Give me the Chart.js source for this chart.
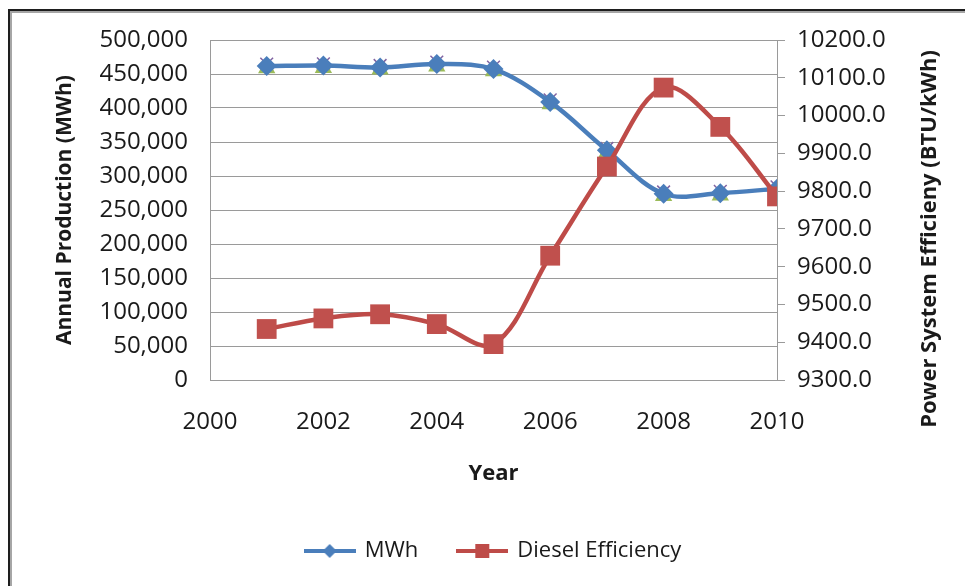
<!DOCTYPE html>
<html>
<head>
<meta charset="utf-8">
<title>Annual Production vs Diesel Efficiency</title>
<script src="https://cdn.jsdelivr.net/npm/chart.js@4.4.1/dist/chart.umd.min.js"></script>
<style>
    html, body { margin: 0; padding: 0; background: #fff; }
    #wrap { position: relative; width: 965px; height: 586px; overflow: hidden; }
    #frame {
        position: absolute; left: 8px; top: 9px; width: 1200px; height: 900px;
        border-top: 2px solid #1e1e1e; border-left: 2px solid #1e1e1e;
        box-shadow: inset 2px 2px 0 #a6a6a6;
    }
    #myChart { position: absolute; left: 0; top: 0; }
</style>
</head>
<body>
<div id="wrap">
    <div id="frame"></div>
    <canvas id="myChart" width="965" height="586"></canvas>
</div>
<script>
    // data
    var years = [2001, 2002, 2003, 2004, 2005, 2006, 2007, 2008, 2009, 2010];
    var mwh = [461700, 462500, 459700, 464600, 457200, 409000, 337800, 273900, 274800, 281300];
    // two extra series hidden under the MWh line (no legend entry)
    var mwhTriangle = [458500, 459000, 456500, 461000, 454000, 405500, 334500, 270500, 271500, 278000];
    var mwhCross = [464500, 465000, 462500, 467500, 460000, 412000, 340500, 276500, 277500, 284000];
    var dieselEfficiency = [9435, 9463, 9474, 9448, 9395, 9629, 9865, 10074, 9970, 9786];

    var blue = '#4a7ebb', red = '#be4b48', green = '#9bbb59', purple = '#8064a2';
    var textColor = '#1a1a1a', gridColor = '#9a9a9a';
    var fontFamily = '"Open Sans", "Liberation Sans", sans-serif';

    Chart.defaults.font.family = fontFamily;
    Chart.defaults.color = textColor;

    var toPoints = function (values) {
        return values.map(function (v, i) { return { x: years[i], y: v }; });
    };

    // little line + marker picture for the legend
    var legendIcon = function (color, shape) {
        var c = document.createElement('canvas');
        c.width = 52; c.height = 18;
        var g = c.getContext('2d');
        g.strokeStyle = color;
        g.fillStyle = color;
        g.lineWidth = 4;
        g.beginPath(); g.moveTo(0, 9); g.lineTo(52, 9); g.stroke();
        g.beginPath();
        if (shape === 'diamond') {
            g.moveTo(26, 2); g.lineTo(33, 9); g.lineTo(26, 16); g.lineTo(19, 9);
        } else {
            g.rect(19, 2, 14, 14);
        }
        g.closePath(); g.fill();
        return c;
    };

    // Excel puts the legend a bit right of the canvas centre
    var legendShift = {
        id: 'legendShift',
        afterLayout: function (chart) {
            chart.legend.left += 11;
            chart.legend.right += 11;
        }
    };

    var rightTitle = {
        id: 'rightTitle',
        afterDraw: function (chart) {
            var ctx = chart.ctx;
            ctx.save();
            ctx.translate(930, 239);
            ctx.rotate(-Math.PI / 2);
            ctx.font = 'bold 22px ' + fontFamily;
            ctx.fillStyle = textColor;
            ctx.textAlign = 'center';
            ctx.textBaseline = 'middle';
            ctx.fillText('Power System Efficieny (BTU/kWh)', 0, 0);
            ctx.restore();
        }
    };

    var chartData = {
        datasets: [
            {
                label: 'MWh',
                data: toPoints(mwh),
                yAxisID: 'y',
                borderColor: blue,
                backgroundColor: blue,
                borderWidth: 4.5,
                pointStyle: 'rectRot',
                pointRadius: 10,
                pointBorderWidth: 0,
                tension: 0.35,
                order: 1
            },
            {
                label: 'Diesel Efficiency',
                data: toPoints(dieselEfficiency),
                yAxisID: 'y2',
                borderColor: red,
                backgroundColor: '#c0504d',
                borderWidth: 4.5,
                pointStyle: 'rect',
                pointRadius: 14,
                pointBorderWidth: 0,
                tension: 0.35,
                order: 0
            },
            {
                label: 'series3',
                data: toPoints(mwhTriangle),
                yAxisID: 'y',
                showLine: false,
                backgroundColor: green,
                borderColor: green,
                pointStyle: 'triangle',
                pointRadius: 10,
                pointBorderWidth: 0,
                order: 2
            },
            {
                label: 'series4',
                data: toPoints(mwhCross),
                yAxisID: 'y',
                showLine: false,
                borderColor: purple,
                backgroundColor: purple,
                pointStyle: 'crossRot',
                pointRadius: 9,
                pointBorderWidth: 1.5,
                order: 3
            }
        ]
    };

    var chartOptions = {
        responsive: false,
        animation: false,
        layout: { padding: { top: 40, left: 0, right: 0, bottom: 14 } },
        plugins: {
            tooltip: { enabled: false },
            legend: {
                position: 'bottom',
                labels: {
                    usePointStyle: true,
                    pointStyleWidth: 48,
                    padding: 40,
                    font: { size: 22 },
                    color: textColor,
                    generateLabels: function (chart) {
                        return [
                            { text: 'MWh', pointStyle: legendIcon(blue, 'diamond'), datasetIndex: 0, hidden: false, lineWidth: 0, fontColor: textColor },
                            { text: 'Diesel Efficiency', pointStyle: legendIcon(red, 'square'), datasetIndex: 1, hidden: false, lineWidth: 0, fontColor: textColor }
                        ];
                    }
                }
            }
        },
        scales: {
            x: {
                type: 'linear',
                min: 2000,
                max: 2010,
                ticks: {
                    stepSize: 2,
                    padding: 28,
                    font: { size: 24 },
                    callback: function (v) { return String(v); }
                },
                grid: { display: false, drawTicks: false },
                border: { color: gridColor, width: 1 },
                title: { display: true, text: 'Year', font: { size: 22, weight: 'bold' }, padding: { top: 0, bottom: 13 } },
                afterFit: function (scale) { scale.height = 120; }
            },
            y: {
                position: 'left',
                min: 0,
                max: 500000,
                ticks: {
                    stepSize: 50000,
                    padding: 22,
                    font: { size: 24 },
                    callback: function (v) { return v.toLocaleString('en-US'); }
                },
                grid: { color: gridColor, lineWidth: 1, drawTicks: false },
                border: { color: gridColor, width: 1 },
                title: { display: true, text: 'Annual Production (MWh)', font: { size: 21, weight: 'bold' }, padding: { top: 52, bottom: 0 } },
                afterFit: function (scale) { scale.width = 210; }
            },
            y2: {
                position: 'right',
                min: 9300,
                max: 10200,
                ticks: {
                    stepSize: 100,
                    padding: 12,
                    font: { size: 24 },
                    callback: function (v) { return v.toFixed(1); }
                },
                grid: { drawOnChartArea: false, drawTicks: true, tickLength: 8, color: gridColor },
                border: { color: gridColor, width: 1 },
                afterFit: function (scale) { scale.width = 188; }
            }
        }
    };

    var ctx = document.getElementById('myChart').getContext('2d');
    var myChart = new Chart(ctx, { type: 'line', data: chartData, options: chartOptions, plugins: [legendShift, rightTitle] });
</script>
</body>
</html>
